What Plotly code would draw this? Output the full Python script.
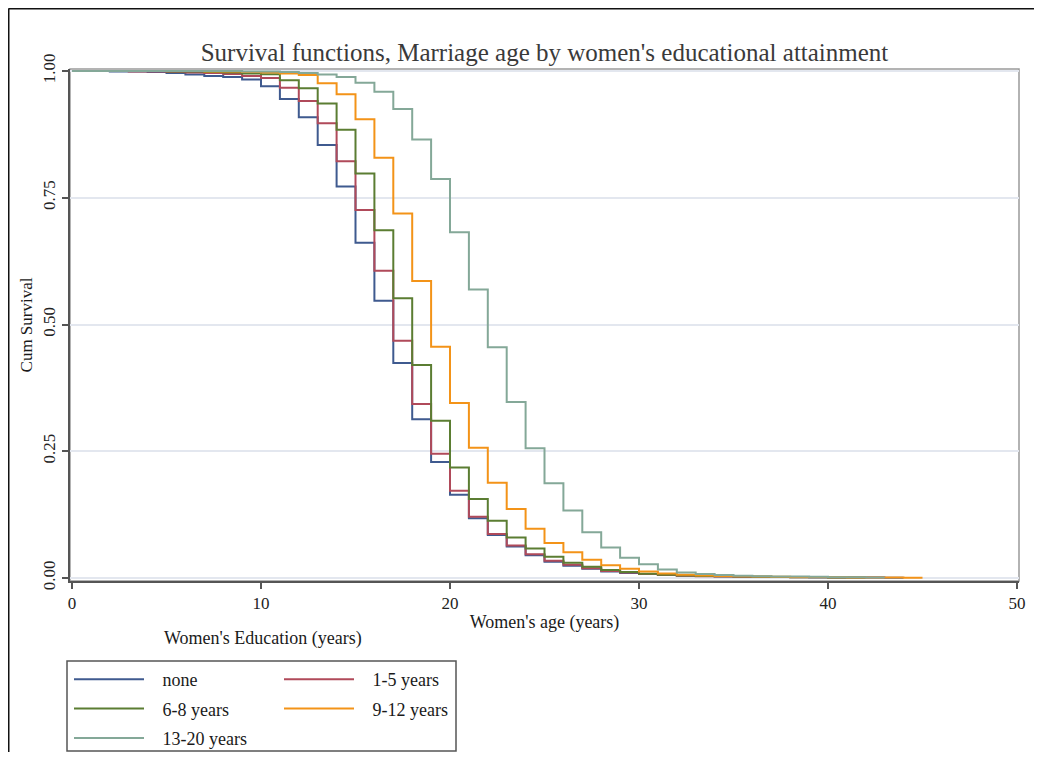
import plotly.graph_objects as go

# ---------------- data ----------------
series_names = ["none", "1-5 years", "6-8 years", "9-12 years", "13-20 years"]
series_colors = ["#3f5a8f", "#b04a5a", "#5b7d32", "#f39318", "#84a898"]

# survival value holding on [age, age+1)
ages_none = list(range(0, 45))
surv_none = [1.0, 1.0, 0.999, 0.999, 0.998, 0.996, 0.993, 0.990, 0.988, 0.983,
             0.970, 0.945, 0.909, 0.854, 0.772, 0.661, 0.547, 0.424, 0.313, 0.229,
             0.164, 0.118, 0.085, 0.062, 0.045, 0.032, 0.024, 0.018, 0.013, 0.010,
             0.008, 0.006, 0.005, 0.004, 0.0035, 0.003, 0.0025, 0.002, 0.0018, 0.0015,
             0.0012, 0.001, 0.0008, 0.0007, 0.0007]

ages_1_5 = list(range(0, 44))
surv_1_5 = [1.0, 1.0, 1.0, 0.999, 0.999, 0.998, 0.997, 0.996, 0.994, 0.990,
            0.986, 0.967, 0.941, 0.897, 0.822, 0.726, 0.606, 0.468, 0.343, 0.245,
            0.172, 0.121, 0.087, 0.064, 0.047, 0.034, 0.026, 0.019, 0.014, 0.011,
            0.008, 0.006, 0.0045, 0.0036, 0.003, 0.0026, 0.0022, 0.0019, 0.0016, 0.0013,
            0.0011, 0.0009, 0.0008, 0.0008]

ages_6_8 = list(range(0, 43))
surv_6_8 = [1.0, 1.0, 1.0, 1.0, 1.0, 0.999, 0.999, 0.998, 0.997, 0.995,
            0.9935, 0.982, 0.966, 0.936, 0.884, 0.798, 0.686, 0.552, 0.420, 0.310,
            0.218, 0.156, 0.113, 0.080, 0.058, 0.042, 0.030, 0.022, 0.016, 0.012,
            0.0085, 0.0066, 0.005, 0.004, 0.0033, 0.0028, 0.0024, 0.002, 0.0017, 0.0014,
            0.0012, 0.001, 0.001]

ages_9_12 = list(range(0, 46))
surv_9_12 = [1.0, 1.0, 1.0, 1.0, 1.0, 1.0, 1.0, 0.999, 0.999, 0.998,
             0.997, 0.995, 0.992, 0.976, 0.954, 0.905, 0.829, 0.719, 0.586, 0.456,
             0.345, 0.257, 0.188, 0.136, 0.097, 0.069, 0.051, 0.036, 0.025, 0.018,
             0.013, 0.009, 0.0066, 0.005, 0.004, 0.0035, 0.003, 0.0025, 0.002, 0.0018,
             0.0015, 0.0012, 0.001, 0.0008, 0.0007, 0.0007]

ages_13_20 = list(range(0, 44))
surv_13_20 = [1.0, 1.0, 1.0, 1.0, 1.0, 1.0, 1.0, 1.0, 1.0, 0.999,
              0.999, 0.998, 0.996, 0.993, 0.988, 0.977, 0.959, 0.925, 0.865, 0.787,
              0.682, 0.569, 0.455, 0.347, 0.256, 0.187, 0.133, 0.090, 0.060, 0.040,
              0.027, 0.017, 0.011, 0.008, 0.006, 0.0045, 0.0035, 0.003, 0.0028, 0.0025,
              0.0015, 0.0013, 0.0012, 0.0012]

x_ticks = [0, 10, 20, 30, 40, 50]
y_ticks = [0.0, 0.25, 0.5, 0.75, 1.0]
y_ticklabels = ["0.00", "0.25", "0.50", "0.75", "1.00"]

all_ages = [ages_none, ages_1_5, ages_6_8, ages_9_12, ages_13_20]
all_surv = [surv_none, surv_1_5, surv_6_8, surv_9_12, surv_13_20]
legend_of = ["legend", "legend2", "legend", "legend2", "legend"]

FONT = "Liberation Serif"
PAD = "\u2002\u00a0"  # gap between legend key and label

# ---------------- layout geometry (page px; page has 8px body offset) ----------------
OFF = 8
W, H = 1042 - OFF, 760 - 2 * OFF
L, T = 70 - OFF, 69 - OFF
R = W - (1019 - OFF)
B = H - (581 - OFF)
PW, PH = W - L - R, H - T - B


def px_x(px):
    return (px - OFF - L) / PW


def px_y(py):
    return (H - B - (py - OFF)) / PH


fig = go.Figure()
for i in range(5):
    fig.add_trace(go.Scatter(
        x=all_ages[i], y=all_surv[i], mode="lines", line_shape="hv",
        line=dict(color=series_colors[i], width=2),
        name=PAD + series_names[i], legend=legend_of[i], legendgroup=series_names[i],
    ))

legend_common = dict(
    orientation="v", bgcolor="rgba(0,0,0,0)", borderwidth=0,
    font=dict(family=FONT, size=18, color="#1a1a1a"),
    itemwidth=70, tracegroupgap=3, xanchor="left", yanchor="top",
    traceorder="grouped", itemclick=False,
)

fig.update_layout(
    width=W, height=H,
    margin=dict(l=L, r=R, t=T, b=B, autoexpand=False),
    paper_bgcolor="white", plot_bgcolor="white",
    title=dict(text="Survival functions, Marriage age by women's educational attainment",
               font=dict(family=FONT, size=25, color="#3a3a3a"),
               x=0.5, xref="paper", xanchor="center", y=1 - (52 - OFF) / H, yanchor="middle"),
    legend=dict(x=px_x(69), y=px_y(661), **legend_common),
    legend2=dict(x=px_x(279), y=px_y(661), **legend_common),
    xaxis=dict(range=[-2 / 18.9, 50 + 2 / 18.9], tickvals=x_ticks,
               showgrid=False, zeroline=False,
               showline=True, linecolor="#555555", linewidth=2,
               ticks="outside", ticklen=6, tickcolor="#555555", tickwidth=1.5,
               tickfont=dict(family=FONT, size=17, color="#222222"),
               title=dict(text="Women's age (years)", standoff=3,
                          font=dict(family=FONT, size=18, color="#1a1a1a"))),
    yaxis=dict(range=[-3 / 507, 1 + 2 / 507], tickvals=y_ticks, ticktext=y_ticklabels,
               tickangle=-90, showgrid=True, gridcolor="#e3e7ef", gridwidth=1.5,
               zeroline=False, showline=True, linecolor="#555555", linewidth=2,
               ticks="outside", ticklen=6, tickcolor="#555555", tickwidth=1.5,
               tickfont=dict(family=FONT, size=17, color="#222222"),
               title=dict(text="Cum Survival", standoff=3,
                          font=dict(family=FONT, size=17, color="#1a1a1a"))),
)

# plot-region outline (top/right in lighter gray)
fig.add_shape(type="rect", xref="paper", yref="paper", x0=0, y0=0, x1=1, y1=1,
              line=dict(color="#9a9a9a", width=1.5), layer="below")
# legend box
fig.add_shape(type="rect", xref="paper", yref="paper",
              x0=px_x(67), x1=px_x(456), y0=px_y(751), y1=px_y(661),
              line=dict(color="#555555", width=1.5))
# outer screenshot frame (top and left)
fig.add_shape(type="line", xref="paper", yref="paper",
              x0=px_x(8.5), x1=px_x(1060), y0=px_y(8.5), y1=px_y(8.5),
              line=dict(color="#111111", width=2))
fig.add_shape(type="line", xref="paper", yref="paper",
              x0=px_x(8.5), x1=px_x(8.5), y0=px_y(8.5), y1=px_y(780),
              line=dict(color="#111111", width=2))
# legend title
fig.add_annotation(text="Women's Education (years)", xref="paper", yref="paper",
                   x=px_x(263), y=px_y(638), showarrow=False,
                   font=dict(family=FONT, size=18, color="#1a1a1a"),
                   xanchor="center", yanchor="middle")

fig.write_html("out.html")
